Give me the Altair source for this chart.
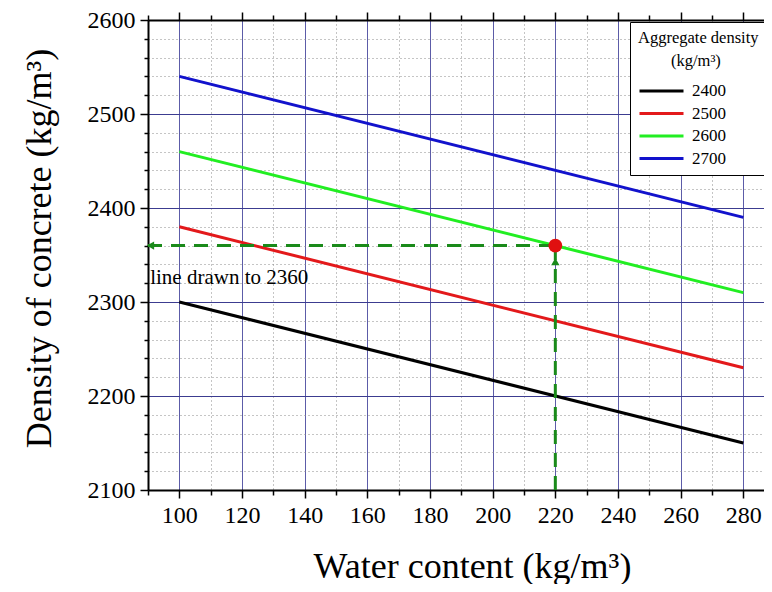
import altair as alt
import pandas as pd

# ---- data ----
water = [100, 280]
agg_density = ["2400", "2500", "2600", "2700"]
conc_at_100 = [2300, 2380, 2460, 2540]
conc_at_280 = [2150, 2230, 2310, 2390]
line_colors = ["#000000", "#e3191b", "#22ee22", "#1212cc"]

point_x = [220]
point_y = [2360]
guide_left_x = [90]
guide_bottom_y = [2100]
arrow_left = [90.8, 2360]
arrow_up = [220, 2343]
note_text = ["line drawn to 2360"]
note_pos = [90.7, 2326]

x_ticks = list(range(90, 290, 10))
y_ticks = list(range(2100, 2601, 20))

FONT = "Liberation Serif"
PAD = "\u200b" + "\u00a0" * 8

rows = []
for d, a, b in zip(agg_density, conc_at_100, conc_at_280):
    rows.append({"water": water[0], "density": a, "agg": d})
    rows.append({"water": water[1], "density": b, "agg": d})
lines_df = pd.DataFrame(rows)

xscale = alt.Scale(domain=[90, 286.6], nice=False, zero=False)
yscale = alt.Scale(domain=[2100, 2600], nice=False, zero=False)

x_axis = alt.Axis(
    values=x_ticks, format="d", labelOverlap=False,
    labelExpr="datum.value % 20 == 0 && datum.value >= 100 ? datum.label : ''",
    tickSize={"condition": {"test": "datum.value % 20 == 0", "value": 8}, "value": 5},
    grid=True,
    gridColor={"condition": {"test": "datum.value % 20 == 0", "value": "#5c5ca8"}, "value": "#8a8a8a"},
    gridDash={"condition": {"test": "datum.value % 20 == 0", "value": []}, "value": [1, 3]},
    gridWidth=1,
    domainColor="black", domainWidth=2, tickColor="black", tickWidth=1.5,
    labelFont=FONT, labelFontSize=24, labelColor="black", labelPadding=5,
    title="Water content (kg/m³)", titleFont=FONT, titleFontSize=36,
    titleFontWeight="normal", titleColor="black", titlePadding=22,
    titleX=324,
)
y_axis = alt.Axis(
    values=y_ticks, format="d", labelOverlap=False,
    labelExpr="datum.value % 100 == 0 ? datum.label : ''",
    tickSize={"condition": {"test": "datum.value % 100 == 0", "value": 8}, "value": 4},
    grid=True,
    gridColor={"condition": {"test": "datum.value % 100 == 0", "value": "#3c3c90"}, "value": "#8a8a8a"},
    gridDash={"condition": {"test": "datum.value % 100 == 0", "value": []}, "value": [1, 3]},
    gridWidth=1,
    domainColor="black", domainWidth=2, tickColor="black", tickWidth=1.5,
    labelFont=FONT, labelFontSize=24, labelColor="black", labelPadding=5,
    title="Density of concrete (kg/m³)", titleFont=FONT, titleFontSize=36,
    titleFontWeight="normal", titleColor="black", titlePadding=29,
    titleY=228,
)
top_axis = alt.Axis(
    orient="top", values=x_ticks, labels=False, title=None, grid=False,
    tickSize={"condition": {"test": "datum.value % 20 == 0", "value": 8}, "value": 5},
    domainColor="black", domainWidth=2, tickColor="black", tickWidth=1.5,
)

Y = lambda f: alt.Y(f, scale=yscale, axis=y_axis)

lines = alt.Chart(lines_df).mark_line(strokeWidth=3).encode(
    x=alt.X("water:Q", scale=xscale, axis=x_axis),
    y=Y("density:Q"),
    color=alt.Color(
        "agg:N",
        scale=alt.Scale(domain=agg_density, range=line_colors),
        legend=alt.Legend(
            title=["Aggregate density", PAD + "(kg/m³)"],
            orient="none", legendX=482, legendY=2,
            symbolType="M-1,0H3", symbolStrokeWidth=3, symbolSize=484,
            strokeColor="black", fillColor="white", padding=8,
            titleFont=FONT, titleFontSize=16.5, titleFontWeight="normal",
            titleColor="black", titleAlign="left", titleAnchor="start",
            titleLimit=300, titlePadding=9, titleLineHeight=23,
            labelFont=FONT, labelFontSize=17, labelColor="black",
            rowPadding=1.5, labelOffset=29,
        ),
    ),
)

top = alt.Chart(pd.DataFrame({"water": guide_left_x})).mark_point(opacity=0).encode(
    x=alt.X("water:Q", scale=xscale, axis=top_axis),
)

guide_df = pd.DataFrame({
    "x": point_x, "y": point_y, "x0": guide_left_x, "y0": guide_bottom_y,
})
hguide = alt.Chart(guide_df).mark_rule(color="#1a8a1a", strokeWidth=3, strokeDash=[14, 9]).encode(
    x=alt.X("x0:Q", scale=xscale, axis=None), x2="x:Q", y=Y("y:Q"),
)
vguide = alt.Chart(guide_df).mark_rule(color="#1a8a1a", strokeWidth=3, strokeDash=[14, 9]).encode(
    x=alt.X("x:Q", scale=xscale, axis=None), y=Y("y0:Q"), y2="y:Q",
)
arrows_df = pd.DataFrame({
    "x": [arrow_left[0], arrow_up[0]],
    "y": [arrow_left[1], arrow_up[1]],
    "shape": ["triangle-left", "triangle-up"],
})
arrows = alt.Chart(arrows_df).mark_point(filled=True, color="#1a8a1a", size=70, opacity=1).encode(
    x=alt.X("x:Q", scale=xscale, axis=None), y=Y("y:Q"),
    shape=alt.Shape("shape:N", scale=None, legend=None),
)
dot = alt.Chart(guide_df).mark_circle(color="#e01010", size=190, opacity=1).encode(
    x=alt.X("x:Q", scale=xscale, axis=None), y=Y("y:Q"),
)
note = alt.Chart(pd.DataFrame({"x": [note_pos[0]], "y": [note_pos[1]], "t": note_text})).mark_text(
    align="left", baseline="middle", font=FONT, fontSize=21, color="black",
).encode(
    x=alt.X("x:Q", scale=xscale, axis=None), y=Y("y:Q"), text="t:N",
)

chart = alt.layer(lines, top, hguide, vguide, arrows, dot, note).resolve_axis(
    x="independent"
).properties(
    width=616, height=470,
    autosize=alt.AutoSizeParams(type="none"),
    padding={"left": 140, "top": 12, "right": 0, "bottom": 94},
    background="white",
).configure_view(stroke=None).configure_axis(labelOverlap=False)

chart.save("out.html", embed_options={"renderer": "svg", "actions": False})
